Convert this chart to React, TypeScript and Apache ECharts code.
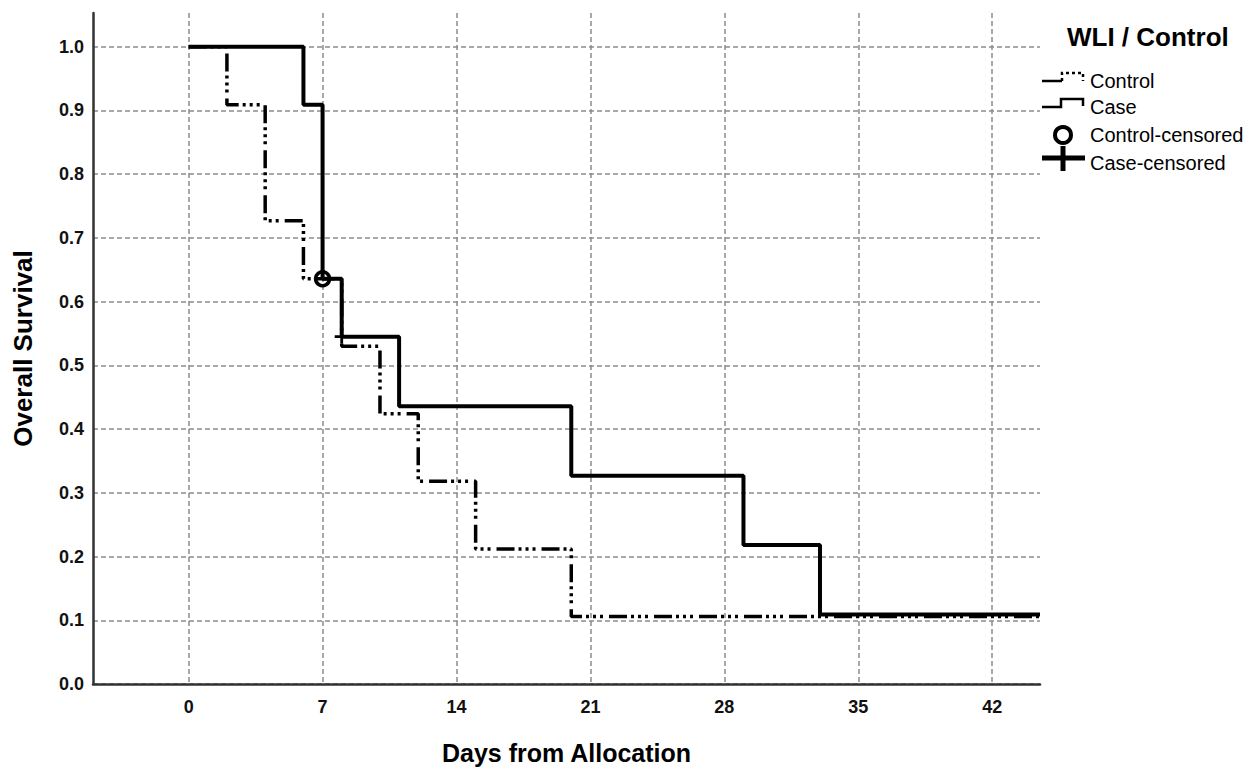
import React, { useEffect, useRef } from "react";
import * as echarts from "echarts";

// ---- data (Kaplan-Meier steps) ----
const caseTimes = [0, 6, 7, 8, 11, 20, 29, 33, 44.5];
const caseSurv = [1.0, 0.909, 0.636, 0.545, 0.436, 0.327, 0.218, 0.109, 0.109];
const controlTimes = [0, 2, 4, 6, 8, 10, 12, 15, 20, 44.5];
const controlSurv = [1.0, 0.909, 0.727, 0.636, 0.53, 0.424, 0.318, 0.212, 0.106, 0.106];
const controlCensoredTimes = [7];
const controlCensoredSurv = [0.636];
const caseCensoredTimes = [8];
const caseCensoredSurv = [0.545];
const xTicks = [0, 7, 14, 21, 28, 35, 42];
const yTicks = [0, 0.1, 0.2, 0.3, 0.4, 0.5, 0.6, 0.7, 0.8, 0.9, 1.0];
const legendTitle = "WLI / Control";
const legendLabels = ["Control", "Case", "Control-censored", "Case-censored"];

const FONT = "'Liberation Sans', Arial, Helvetica, sans-serif";

export default function App() {
  const ref = useRef<HTMLDivElement>(null);

  useEffect(() => {
    document.body.style.margin = "0";
    if (!ref.current) return;
    const chart = echarts.init(ref.current, null, { renderer: "svg" });

    const zip = (xs: number[], ys: number[]) => xs.map((x, i) => [x, ys[i]]);
    const gridStyle = { color: "#8c8c8c", width: 1.5, type: [5, 3] as number[] };

    const lx = 1090;
    const legendGraphics: any[] = [
      {
        type: "text",
        left: 1067,
        top: 24,
        style: { text: legendTitle, font: `bold 26px ${FONT}`, fill: "#000" },
      },
      // Control icon
      {
        type: "line",
        shape: { x1: 1042, y1: 81, x2: 1062, y2: 81 },
        style: { stroke: "#000", lineWidth: 2.5 },
      },
      {
        type: "polyline",
        shape: { points: [[1062, 81], [1062, 73], [1083, 73], [1083, 81]] },
        style: { stroke: "#000", lineWidth: 2.5, fill: null, lineDash: [3, 3] },
      },
      // Case icon
      {
        type: "polyline",
        shape: { points: [[1042, 107], [1061, 107], [1061, 99], [1083, 99], [1083, 106]] },
        style: { stroke: "#000", lineWidth: 2.5, fill: null },
      },
      // Control-censored icon
      {
        type: "circle",
        shape: { cx: 1063, cy: 135, r: 8 },
        style: { stroke: "#000", lineWidth: 4, fill: "#fff" },
      },
      // Case-censored icon
      {
        type: "line",
        shape: { x1: 1042, y1: 158, x2: 1085, y2: 158 },
        style: { stroke: "#000", lineWidth: 5 },
      },
      {
        type: "line",
        shape: { x1: 1063, y1: 146, x2: 1063, y2: 171 },
        style: { stroke: "#000", lineWidth: 5 },
      },
    ];
    const labelYs = [81, 107, 135, 163];
    legendLabels.forEach((t, i) => {
      legendGraphics.push({
        type: "text",
        x: lx,
        y: labelYs[i],
        style: {
          text: t,
          font: `20px ${FONT}`,
          fill: "#000",
          verticalAlign: "middle",
          align: "left",
        },
      });
    });

    chart.setOption({
      animation: false,
      backgroundColor: "#fff",
      textStyle: { fontFamily: FONT },
      grid: { left: 93, right: 215, top: 13, bottom: 83, containLabel: false },
      xAxis: {
        type: "value",
        min: -5,
        max: 44.5,
        name: "Days from Allocation",
        nameLocation: "middle",
        nameGap: 56,
        nameTextStyle: { fontSize: 25, fontWeight: "bold", color: "#000", fontFamily: FONT },
        axisLine: { show: true, onZero: false, lineStyle: { color: "#333", width: 2.5 } },
        axisTick: { show: false, customValues: xTicks },
        axisLabel: {
          customValues: xTicks,
          fontSize: 18,
          fontWeight: "bold",
          color: "#111",
          margin: 14,
          fontFamily: FONT,
        },
        splitLine: { show: true, lineStyle: gridStyle },
        z: 2,
      },
      yAxis: {
        type: "value",
        min: 0,
        max: 1.053,
        name: "Overall Survival",
        nameLocation: "middle",
        nameGap: 57,
        nameTextStyle: { fontSize: 26, fontWeight: "bold", color: "#000", fontFamily: FONT },
        axisLine: { show: true, onZero: false, lineStyle: { color: "#333", width: 2.5 } },
        axisTick: { show: false, customValues: yTicks },
        axisLabel: {
          customValues: yTicks,
          formatter: (v: number) => v.toFixed(1),
          fontSize: 18,
          fontWeight: "bold",
          color: "#111",
          margin: 9,
          fontFamily: FONT,
        },
        splitLine: { show: true, lineStyle: gridStyle },
        z: 2,
      },
      series: [
        {
          name: "Control",
          type: "line",
          step: "end",
          data: zip(controlTimes, controlSurv),
          symbol: "none",
          lineStyle: { color: "#000", width: 3.5, type: [18, 4, 3, 4, 3, 4, 3, 6] },
          z: 3,
        },
        {
          name: "Case",
          type: "line",
          step: "end",
          data: zip(caseTimes, caseSurv),
          symbol: "none",
          lineStyle: { color: "#000", width: 4, type: "solid" },
          z: 4,
        },
        {
          name: "Control-censored",
          type: "scatter",
          data: zip(controlCensoredTimes, controlCensoredSurv),
          symbol: "circle",
          symbolSize: 14,
          itemStyle: { color: "rgba(255,255,255,0)", borderColor: "#000", borderWidth: 3.5, opacity: 1 },
          z: 5,
        },
        {
          name: "Case-censored",
          type: "scatter",
          data: zip(caseCensoredTimes, caseCensoredSurv),
          symbol: "path://M4,0h2v4h4v2h-4v4h-2v-4h-4v-2h4z",
          symbolSize: 14,
          itemStyle: { color: "#000", opacity: 1 },
          z: 5,
        },
      ],
      graphic: legendGraphics,
    });

    return () => chart.dispose();
  }, []);

  return <div ref={ref} style={{ width: 1255, height: 770 }} />;
}
